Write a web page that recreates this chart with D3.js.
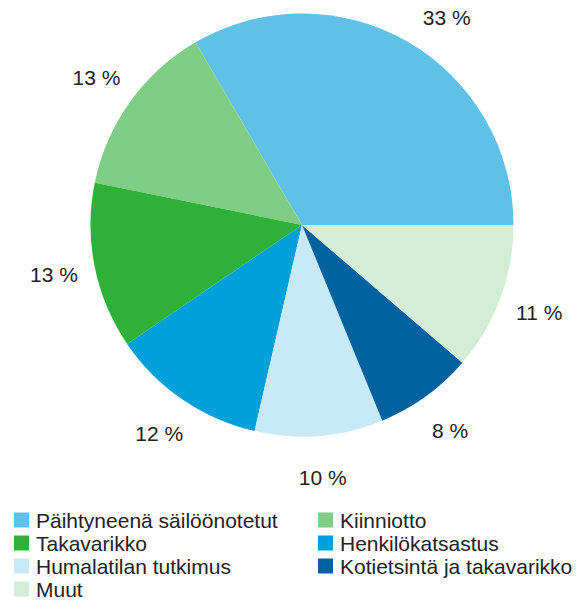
<!DOCTYPE html>
<html>
<head>
<meta charset="utf-8">
<script src="https://cdn.jsdelivr.net/npm/d3@7"></script>
<style>
  html, body { margin: 0; padding: 0; background: #ffffff; }
  svg { display: block; }
  text { font-family: "Liberation Sans", Arial, sans-serif; fill: #222222; }
</style>
</head>
<body>
<svg id="chart" width="577" height="604"></svg>
<script>
// ---- data ----
const categories = [
  "Päihtyneenä säilöönotetut",
  "Kiinniotto",
  "Takavarikko",
  "Henkilökatsastus",
  "Humalatilan tutkimus",
  "Kotietsintä ja takavarikko",
  "Muut"
];
const values = [33.4, 13.4, 12.7, 11.9, 9.8, 7.5, 11.3];
const sliceLabels = ["33 %", "13 %", "13 %", "12 %", "10 %", "8 %", "11 %"];
const colors = ["#5fc1e6", "#80ce86", "#2eb039", "#00a0da", "#c8e9f7", "#00639f", "#d3edd6"];

// ---- layout ----
const W = 577, H = 604;
const cx = 302, cy = 225, radius = 211.5;
const labelRadius = 253;
const fontSize = 21;
const capHalf = 7.5;
const minLabelCenterY = 17.5;

const svg = d3.select("#chart");

const pie = d3.pie()
  .sort(null)
  .value(d => d)
  .startAngle(Math.PI / 2)
  .endAngle(Math.PI / 2 - 2 * Math.PI);

const arcs = pie(values);
const arcGen = d3.arc().innerRadius(0).outerRadius(radius);

const g = svg.append("g").attr("transform", `translate(${cx},${cy})`);

g.selectAll("path.slice")
  .data(arcs)
  .join("path")
  .attr("class", "slice")
  .attr("d", arcGen)
  .attr("fill", (d, i) => colors[i]);

// labels along the mid angle, slid along the label circle to stay inside the chart
const labelPos = arcs.map(d => {
  const a = (d.startAngle + d.endAngle) / 2;
  let x = labelRadius * Math.sin(a);
  let y = -labelRadius * Math.cos(a);
  const minY = minLabelCenterY - cy;
  if (y < minY) {
    y = minY;
    const sgn = Math.sin(a) >= 0 ? 1 : -1;
    x = sgn * Math.sqrt(labelRadius * labelRadius - y * y);
  }
  return [x, y];
});

g.selectAll("text.lbl")
  .data(arcs)
  .join("text")
  .attr("class", "lbl")
  .attr("x", (d, i) => labelPos[i][0])
  .attr("y", (d, i) => labelPos[i][1] + capHalf)
  .attr("text-anchor", "middle")
  .attr("font-size", fontSize)
  .style("white-space", "pre")
  .text((d, i) => sliceLabels[i]);

// ---- legend ----
const legendCols = [14, 318];
const legendTextOffset = 22;
const legendTop = 512.5;
const legendRow = 23;
const sw = 15;

const legend = svg.append("g");
const items = legend.selectAll("g.item")
  .data(categories)
  .join("g")
  .attr("class", "item")
  .attr("transform", (d, i) => `translate(${legendCols[i % 2]},${legendTop + Math.floor(i / 2) * legendRow})`);

items.append("rect")
  .attr("width", sw)
  .attr("height", sw)
  .attr("fill", (d, i) => colors[i]);

items.append("text")
  .attr("x", legendTextOffset)
  .attr("y", sw)
  .attr("font-size", fontSize)
  .text(d => d);
</script>
</body>
</html>
